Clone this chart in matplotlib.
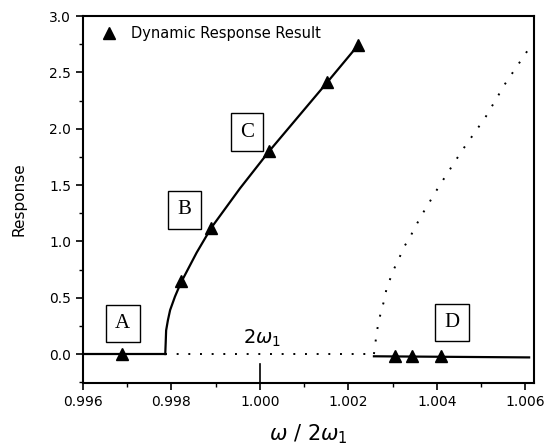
import matplotlib.pyplot as plt
from matplotlib.ticker import MultipleLocator

# stable branch (solid)
lower_x = [0.9960, 0.99786]
lower_y = [0.0, 0.0]
upper_x = [0.99786, 0.99787, 0.99788, 0.99792, 0.99797, 0.99808, 0.99821, 0.99857,
           0.9989, 0.99955, 1.00021, 1.00152, 1.00222]
upper_y = [0.0, 0.10, 0.21, 0.30, 0.39, 0.51, 0.63, 0.90,
           1.12, 1.47, 1.80, 2.41, 2.74]
right_x = [1.00258, 1.00609]
right_y = [-0.02, -0.03]

# unstable branch (dotted)
dot_flat_x = [0.99786, 1.00258]
dot_flat_y = [0.0, 0.0]
dot_rise_x = [1.00258, 1.00261, 1.00264, 1.00268, 1.00274, 1.0028, 1.00286, 1.00295,
              1.00304, 1.00315, 1.00326, 1.0034, 1.00353, 1.00367, 1.00381, 1.00396,
              1.00412, 1.00458, 1.0051, 1.00555, 1.00605]
dot_rise_y = [0.0, 0.09, 0.18, 0.275, 0.375, 0.46, 0.57, 0.67,
              0.76, 0.85, 0.95, 1.04, 1.14, 1.24, 1.33, 1.43,
              1.53, 1.81, 2.10, 2.40, 2.69]

# dynamic response markers
dyn_x = [0.99688, 0.99822, 0.9989, 1.00021, 1.00152, 1.00222, 1.00306, 1.00344, 1.0041]
dyn_y = [0.0, 0.65, 1.12, 1.80, 2.41, 2.74, -0.02, -0.02, -0.02]

# region labels
region_names = ['A', 'B', 'C', 'D']
region_x = [0.99690, 0.99829, 0.99971, 1.00435]
region_y = [0.27, 1.28, 1.97, 0.28]

fig = plt.figure(figsize=(5.44, 4.47), dpi=100)
ax = fig.add_axes([0.1526, 0.1432, 0.829, 0.8210])

ax.plot(lower_x, lower_y, color='black', lw=1.6)
ax.plot(upper_x, upper_y, color='black', lw=1.6)
ax.plot(right_x, right_y, color='black', lw=1.6)
ax.plot(dot_flat_x, dot_flat_y, color='black', lw=1.4, linestyle=(0, (1, 5)))
ax.plot(dot_rise_x, dot_rise_y, color='black', lw=1.4, linestyle=(0, (1, 5.5)))
ax.plot(dyn_x, dyn_y, linestyle='none', marker='^', color='black', ms=8,
        label='Dynamic Response Result')

for name, x, y in zip(region_names, region_x, region_y):
    ax.text(x, y, name, family='Liberation Serif', fontsize=15, ha='center', va='center',
            bbox=dict(boxstyle='square,pad=0.45', fc='white', ec='black', lw=1))

ax.text(1.00005, 0.14, r'$2\omega_1$', fontsize=14, ha='center', va='center')
ax.plot([1.0, 1.0], [-0.09, -0.26], color='black', lw=1.2)

ax.set_xlim(0.996, 1.0062)
ax.set_ylim(-0.257, 3.0)
ax.xaxis.set_major_locator(MultipleLocator(0.002))
ax.xaxis.set_minor_locator(MultipleLocator(0.001))
ax.yaxis.set_major_locator(MultipleLocator(0.5))
ax.yaxis.set_minor_locator(MultipleLocator(0.25))
ax.xaxis.set_major_formatter(plt.FuncFormatter(lambda v, p: f'{v:.3f}'))
ax.yaxis.set_major_formatter(plt.FuncFormatter(lambda v, p: f'{v:.1f}'))
ax.tick_params(labelsize=10, direction='out')
ax.tick_params(which='major', length=5, width=1.2)
ax.tick_params(which='minor', length=3, width=1)
for s in ax.spines.values():
    s.set_linewidth(1.5)

ax.set_xlabel(r'$\omega\ /\ 2\omega_1$', fontsize=15, labelpad=10)
ax.set_ylabel('Response', fontsize=11, labelpad=16)

ax.legend(loc='upper left', bbox_to_anchor=(0.015, 1.0), frameon=False, fontsize=10.5,
          handletextpad=0.9, borderaxespad=0.3, handlelength=1.2)

fig.savefig('out.png', dpi=100)
